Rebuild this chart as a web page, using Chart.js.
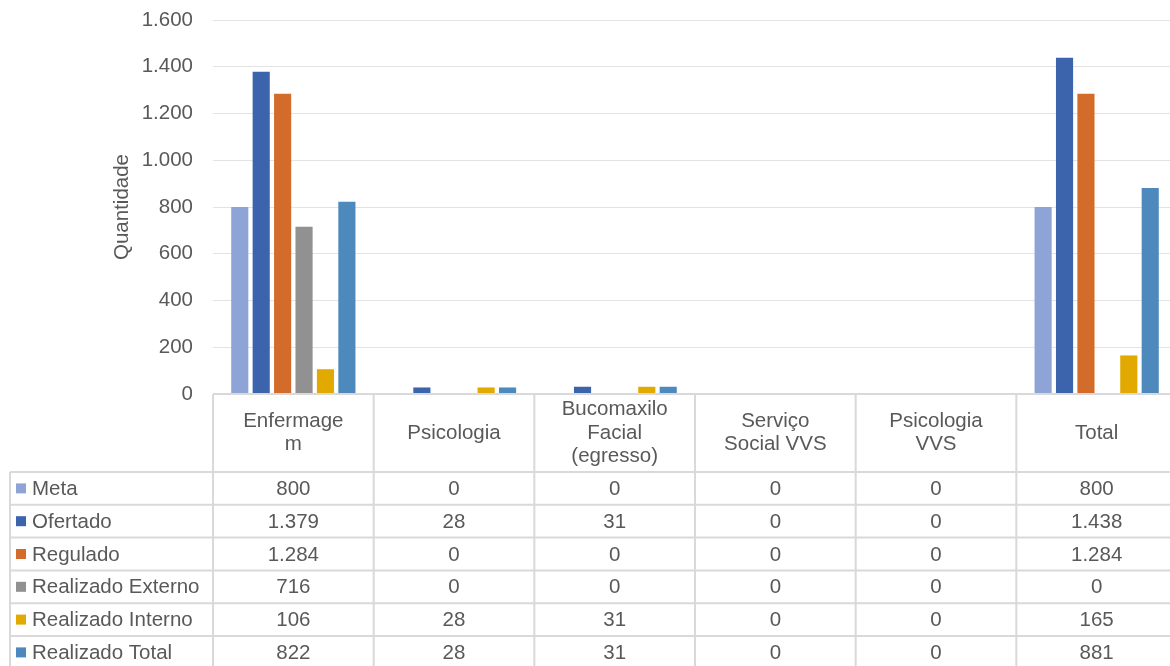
<!DOCTYPE html>
<html lang="pt-BR">
<head>
<meta charset="utf-8">
<title>Quantidade por serviço</title>
<script src="https://cdn.jsdelivr.net/npm/chart.js@4.4.1/dist/chart.umd.min.js"></script>
<style>
  html, body { margin: 0; padding: 0; background: #fff; overflow: hidden; }
  #wrap { width: 1170px; height: 666px; overflow: hidden; }
</style>
</head>
<body>
<div id="wrap"><canvas id="grafico" width="1177" height="666"></canvas></div>
<script>
// Categorias (linhas quebradas como no Excel)
const categorias = ["Enfermagem", "Psicologia", "Bucomaxilo Facial (egresso)", "Serviço Social VVS", "Psicologia VVS", "Total"];
const rotulosCabecalho = [["Enfermage", "m"], ["Psicologia"], ["Bucomaxilo", "Facial", "(egresso)"], ["Serviço", "Social VVS"], ["Psicologia", "VVS"], ["Total"]];

// Séries
const meta = [800, 0, 0, 0, 0, 800];
const ofertado = [1379, 28, 31, 0, 0, 1438];
const regulado = [1284, 0, 0, 0, 0, 1284];
const realizadoExterno = [716, 0, 0, 0, 0, 0];
const realizadoInterno = [106, 28, 31, 0, 0, 165];
const realizadoTotal = [822, 28, 31, 0, 0, 881];

const nomesSeries = ["Meta", "Ofertado", "Regulado", "Realizado Externo", "Realizado Interno", "Realizado Total"];
const coresSeries = ["#8FA4D6", "#3B64AD", "#D36B2A", "#919191", "#E2A900", "#4E89BE"];
const valoresSeries = [meta, ofertado, regulado, realizadoExterno, realizadoInterno, realizadoTotal];

// Eixo Y
const yMin = 0;
const yMax = 1600;
const yPasso = 200;

const FONTE = "'Liberation Sans', Arial, sans-serif";
const TAM = 20.5;
const COR_TEXTO = "#595959";
const COR_LINHA = "#D9D9D9";

// formato brasileiro: 1.600
function formatar(v) {
    return String(v).replace(/\B(?=(\d{3})+(?!\d))/g, ".");
}

// Desenha a tabela de dados embaixo do gráfico
const tabelaPlugin = {
    id: "tabelaDados",
    afterDraw(chart) {
        const ctx = chart.ctx;
        const x = chart.scales.x;
        const topo = chart.chartArea.bottom;
        const n = categorias.length;
        const passo = x.getPixelForTick(1) - x.getPixelForTick(0);
        const bordas = [];
        for (let i = 0; i <= n; i++) {
            bordas.push(x.getPixelForTick(0) - passo / 2 + i * passo);
        }
        const altCab = 78;
        const altLinha = 32.8;
        const esq = 10;
        const fimY = chart.height + 10;

        ctx.save();
        ctx.strokeStyle = COR_LINHA;
        ctx.lineWidth = 2;

        // linhas horizontais
        ctx.beginPath();
        ctx.moveTo(bordas[0], topo);
        ctx.lineTo(bordas[n] + 10, topo);
        for (let r = 0; r <= valoresSeries.length; r++) {
            const yy = topo + altCab + r * altLinha;
            ctx.moveTo(esq, yy);
            ctx.lineTo(bordas[n] + 10, yy);
        }
        // linhas verticais
        ctx.moveTo(esq, topo + altCab);
        ctx.lineTo(esq, fimY);
        bordas.forEach(bx => {
            ctx.moveTo(bx, topo);
            ctx.lineTo(bx, fimY);
        });
        ctx.stroke();

        ctx.fillStyle = COR_TEXTO;
        ctx.font = TAM + "px " + FONTE;
        ctx.textAlign = "center";
        ctx.textBaseline = "middle";

        // cabeçalho
        const alturaTexto = 23.5;
        rotulosCabecalho.forEach((linhas, i) => {
            const cx = x.getPixelForTick(i);
            const cy = topo + altCab / 2 - (linhas.length - 1) * alturaTexto / 2;
            linhas.forEach((t, k) => ctx.fillText(t, cx, cy + k * alturaTexto));
        });

        // linhas de dados
        valoresSeries.forEach((serie, r) => {
            const cy = topo + altCab + r * altLinha + altLinha / 2;
            ctx.fillStyle = coresSeries[r];
            ctx.fillRect(16, cy - 5, 10, 10);
            ctx.fillStyle = COR_TEXTO;
            ctx.textAlign = "left";
            ctx.fillText(nomesSeries[r], 32, cy + 1);
            ctx.textAlign = "center";
            serie.forEach((v, i) => {
                ctx.fillText(formatar(v), x.getPixelForTick(i), cy + 1);
            });
        });
        ctx.restore();
    }
};

const dados = {
    labels: categorias,
    datasets: valoresSeries.map((serie, i) => ({
        label: nomesSeries[i],
        data: serie,
        backgroundColor: coresSeries[i],
        borderWidth: 0,
        categoryPercentage: 0.8,
        barPercentage: 0.8
    }))
};

new Chart(document.getElementById("grafico"), {
    type: "bar",
    data: dados,
    plugins: [tabelaPlugin],
    options: {
        responsive: false,
        animation: false,
        devicePixelRatio: 1,
        layout: { padding: { top: 20, right: 0, bottom: 0, left: 0 } },
        plugins: {
            legend: { display: false },
            tooltip: { enabled: false }
        },
        scales: {
            x: {
                ticks: { display: false },
                grid: { display: false },
                border: { display: false },
                afterFit(scale) { scale.height = 272; }
            },
            y: {
                min: yMin,
                max: yMax,
                ticks: {
                    stepSize: yPasso,
                    padding: 20,
                    color: COR_TEXTO,
                    font: { family: FONTE, size: TAM },
                    callback: v => formatar(v)
                },
                grid: { color: "#E3E3E3", lineWidth: 1, drawTicks: false },
                border: { display: false },
                title: {
                    display: true,
                    text: "Quantidade",
                    color: COR_TEXTO,
                    font: { family: FONTE, size: TAM },
                    padding: { top: 110, bottom: 0 }
                },
                afterFit(scale) {
                    scale.width = 213;
                    scale.paddingTop = 12;
                    scale.paddingBottom = 12;
                }
            }
        }
    }
});
</script>
</body>
</html>
